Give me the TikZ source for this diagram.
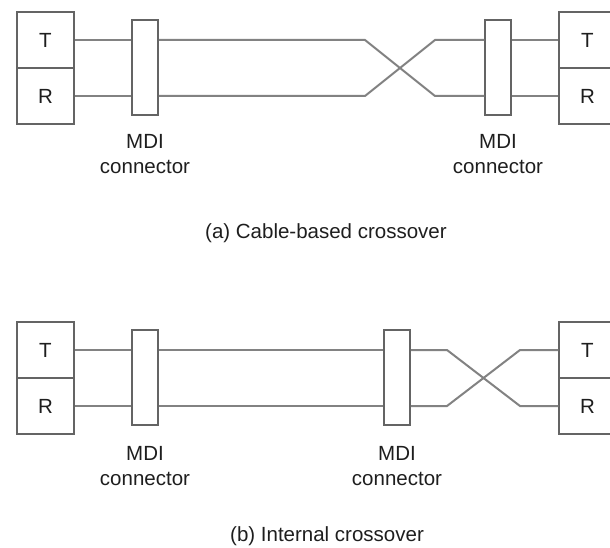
\documentclass[tikz,border=0pt]{standalone}
\usepackage{fontspec}
\setmainfont{Liberation Sans}
\definecolor{wirec}{RGB}{130,130,130}
\definecolor{boxc}{RGB}{100,100,100}
\definecolor{txtc}{RGB}{30,30,30}
\begin{document}
\begin{tikzpicture}[x=1pt,y=-1pt,
  cell/.style={draw=boxc,line width=1.5pt,minimum width=57pt,minimum height=56pt,inner sep=0pt,
     font=\fontsize{20.5}{24}\selectfont,text=txtc},
  mdi/.style={draw=boxc,line width=1.5pt,minimum width=26pt,minimum height=95pt,inner sep=0pt},
  lbl/.style={font=\fontsize{20.5}{24}\selectfont,text=txtc,inner sep=0pt,anchor=base},
  captext/.style={font=\fontsize{20.5}{24}\selectfont,text=txtc,inner sep=0pt,anchor=base west},
  wire/.style={draw=wirec,line width=2pt}]
\useasboundingbox (0,0) rectangle (610,548);
\clip (0,0) rectangle (610,548);
% ---------------- (a) ----------------
\node[cell] (aLT) at (45.5,40) {T};
\node[cell] (aLR) at (45.5,96) {R};
\node[cell] (aRT) at (587.5,40) {T};
\node[cell] (aRR) at (587.5,96) {R};
\node[mdi] (aM1) at (145,67.5) {};
\node[mdi] (aM2) at (498,67.5) {};
\node[lbl] (aM1a) at (145,149) {MDI};
\node[lbl] (aM1b) at (145,174) {connector};
\node[lbl] (aM2a) at (498,149) {MDI};
\node[lbl] (aM2b) at (498,174) {connector};
\coordinate (aXs1) at (365,40);
\coordinate (aXs2) at (365,96);
\coordinate (aXe1) at (435,40);
\coordinate (aXe2) at (435,96);
\draw[wire] (aLT.east) -- (aM1.west |- aLT.east);
\draw[wire] (aLR.east) -- (aM1.west |- aLR.east);
\draw[wire] (aM1.east |- aLT.east) -- (aXs1) -- (aXe2) -- (aM2.west |- aXe2);
\draw[wire] (aM1.east |- aLR.east) -- (aXs2) -- (aXe1) -- (aM2.west |- aXe1);
\draw[wire] (aM2.east |- aRT.west) -- (aRT.west);
\draw[wire] (aM2.east |- aRR.west) -- (aRR.west);
\node[captext] (capa) at (205,238) {(a) Cable-based crossover};
% ---------------- (b) ----------------
\node[cell] (bLT) at (45.5,350) {T};
\node[cell] (bLR) at (45.5,406) {R};
\node[cell] (bRT) at (587.5,350) {T};
\node[cell] (bRR) at (587.5,406) {R};
\node[mdi] (bM1) at (145,377.5) {};
\node[mdi] (bM2) at (397,377.5) {};
\node[lbl] (bM1a) at (145,460) {MDI};
\node[lbl] (bM1b) at (145,485) {connector};
\node[lbl] (bM2a) at (397,460) {MDI};
\node[lbl] (bM2b) at (397,485) {connector};
\coordinate (bXs1) at (447,350);
\coordinate (bXs2) at (447,406);
\coordinate (bXe1) at (520,350);
\coordinate (bXe2) at (520,406);
\draw[wire] (bLT.east) -- (bM1.west |- bLT.east);
\draw[wire] (bLR.east) -- (bM1.west |- bLR.east);
\draw[wire] (bM1.east |- bLT.east) -- (bM2.west |- bLT.east);
\draw[wire] (bM1.east |- bLR.east) -- (bM2.west |- bLR.east);
\draw[wire] (bM2.east |- bLT.east) -- (bXs1) -- (bXe2) -- (bRR.west);
\draw[wire] (bM2.east |- bLR.east) -- (bXs2) -- (bXe1) -- (bRT.west);
\node[captext] (capb) at (230,541) {(b) Internal crossover};
\end{tikzpicture}
\end{document}
